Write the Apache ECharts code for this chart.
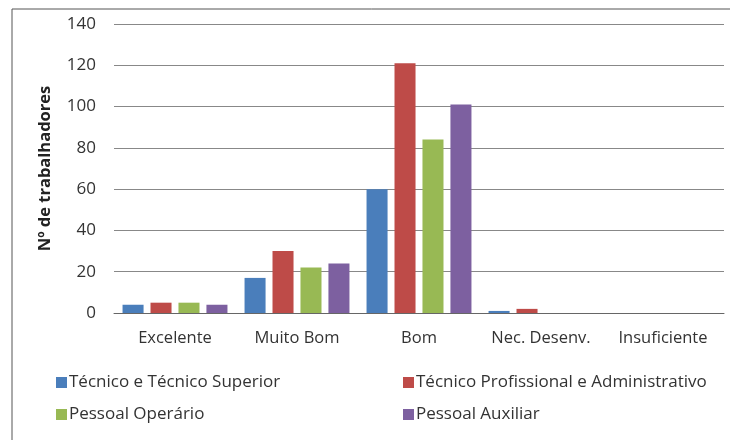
<!DOCTYPE html>
<html>
<head>
<meta charset="utf-8">
<script src="https://cdn.jsdelivr.net/npm/echarts@6/dist/echarts.min.js"></script>
<style>
  html, body { margin: 0; padding: 0; background: #fff; }
  #chart { width: 730px; height: 440px; }
</style>
</head>
<body>
<div id="chart"></div>
<script>
var categories = ['Excelente', 'Muito Bom', 'Bom', 'Nec. Desenv.', 'Insuficiente'];
var tecnicoSuperior = [4, 17, 60, 1, 0];
var tecnicoProfissional = [5, 30, 121, 2, 0];
var pessoalOperario = [5, 22, 84, 0, 0];
var pessoalAuxiliar = [4, 24, 101, 0, 0];
var seriesNames = ['Técnico e Técnico Superior', 'Técnico Profissional e Administrativo', 'Pessoal Operário', 'Pessoal Auxiliar'];
var colors = ['#4a7ebb', '#be4b48', '#98b954', '#7d60a0'];

var font = '"Open Sans", sans-serif';
var myChart = echarts.init(document.getElementById('chart'));

function bar(name, data, color) {
    return {
        name: name,
        type: 'bar',
        data: data,
        barGap: '33%',
        barCategoryGap: '14%',
        itemStyle: { color: color }
    };
}

var option = {
    animation: false,
    textStyle: { fontFamily: font },
    graphic: [{
        type: 'rect',
        shape: { x: 12, y: 9, width: 740, height: 450 },
        style: { fill: 'none', stroke: '#555', lineWidth: 1 },
        silent: true
    }],
    grid: { left: 114, right: 6, top: 24, bottom: 127 },
    legend: [{
        left: 51, top: 369, orient: 'vertical', itemGap: 15,
        itemWidth: 11, itemHeight: 11, icon: 'rect',
        data: [seriesNames[0], seriesNames[2]],
        textStyle: { fontSize: 17, color: '#333', fontFamily: font, padding: [0, 0, 0, -3] }
    }, {
        left: 398, top: 369, orient: 'vertical', itemGap: 15,
        itemWidth: 11, itemHeight: 11, icon: 'rect',
        data: [seriesNames[1], seriesNames[3]],
        textStyle: { fontSize: 17, color: '#333', fontFamily: font, padding: [0, 0, 0, -3] }
    }],
    xAxis: {
        type: 'category',
        data: categories,
        axisTick: { show: false },
        axisLine: { lineStyle: { color: '#666' } },
        axisLabel: { interval: 0, fontSize: 16.5, color: '#333', margin: 17, fontFamily: font }
    },
    yAxis: {
        type: 'value',
        min: 0, max: 140, interval: 20,
        name: 'Nº de trabalhadores',
        nameLocation: 'middle',
        nameGap: 60,
        nameTextStyle: { fontSize: 16.5, fontWeight: 'bold', color: '#222', fontFamily: font },
        axisLabel: { fontSize: 17, color: '#333', margin: 18, fontFamily: font },
        splitLine: { lineStyle: { color: '#888' } }
    },
    series: [
        bar(seriesNames[0], tecnicoSuperior, colors[0]),
        bar(seriesNames[1], tecnicoProfissional, colors[1]),
        bar(seriesNames[2], pessoalOperario, colors[2]),
        bar(seriesNames[3], pessoalAuxiliar, colors[3])
    ]
};
myChart.setOption(option);
</script>
</body>
</html>
